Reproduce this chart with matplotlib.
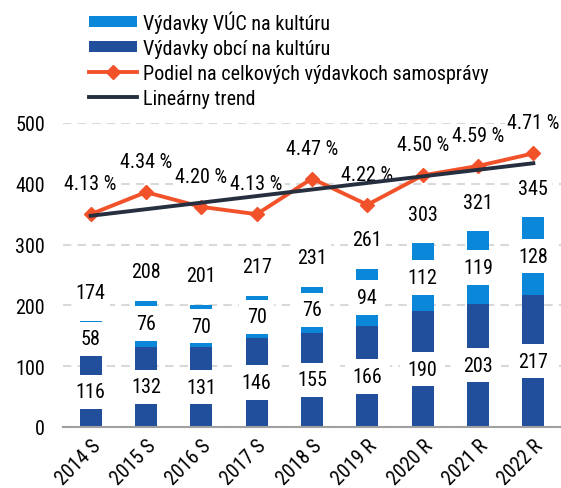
import numpy as np
import matplotlib
matplotlib.use("Agg")
import matplotlib.pyplot as plt

plt.rcParams['font.family'] = ['Roboto Condensed', 'Liberation Sans', 'DejaVu Sans']

categories = ["2014 S", "2015 S", "2016 S", "2017 S", "2018 S", "2019 R", "2020 R", "2021 R", "2022 R"]
obce = [116, 132, 131, 146, 155, 166, 190, 203, 217]
vuc = [58, 76, 70, 70, 76, 94, 112, 119, 128]
totals = [174, 208, 201, 217, 231, 261, 303, 321, 345]
podiel = [4.13, 4.34, 4.20, 4.13, 4.47, 4.22, 4.50, 4.59, 4.71]
yticks = [0, 100, 200, 300, 400, 500]

C_LIGHT = "#0A87D9"
C_DARK = "#214F9C"
C_ORANGE = "#F2522A"
C_TREND = "#262F3F"

FS = 14.5

fig = plt.figure(figsize=(5.61, 4.89), dpi=100)
ax = fig.add_axes([63/561, 1 - 428/489, 1 - 63/561, (428-124)/489])
x = np.arange(len(categories))

ax.set_axisbelow(True)
ax.yaxis.grid(True, color="#D9D9D9", linestyle=(0, (4, 3)), linewidth=1.5)
b1 = ax.bar(x, obce, width=0.4, color=C_DARK, label="Výdavky obcí na kultúru", zorder=2)
b2 = ax.bar(x, vuc, width=0.4, bottom=obce, color=C_LIGHT, label="Výdavky VÚC na kultúru", zorder=2)
ax.set_ylim(0, 500)
ax.set_xlim(-0.5, len(categories) - 0.5)
ax.set_yticks(yticks)
ax.set_xticks(x)
ax.set_xticklabels(categories, rotation=45, ha="right", rotation_mode="anchor", fontsize=FS)
ax.tick_params(axis="both", length=0, labelsize=FS)
ax.tick_params(axis="y", pad=13)
ax.tick_params(axis="x", pad=6.5)
for s in ["left", "right", "top"]:
    ax.spines[s].set_visible(False)
ax.spines["bottom"].set_color("#A0A0A0")
ax.spines["bottom"].set_linewidth(1.5)

box = dict(boxstyle="square,pad=0.38", fc="white", ec="none")
for i in range(len(categories)):
    ax.text(x[i], obce[i] / 2, str(obce[i]), ha="center", va="center", fontsize=FS, bbox=box, zorder=3)
    ax.text(x[i], obce[i] + vuc[i] / 2, str(vuc[i]), ha="center", va="center", fontsize=FS, bbox=box, zorder=3)
    ax.annotate(str(totals[i]), xy=(x[i], obce[i] + vuc[i]), xytext=(0, 21), textcoords="offset points",
                ha="center", va="center", fontsize=FS, bbox=dict(boxstyle="square,pad=0.2", fc="white", ec="none"),
                zorder=3)

ax2 = ax.twinx()
ax2.set_ylim(2.1, 5.0)
ax2.set_xlim(-0.5, len(categories) - 0.5)
for s in ax2.spines.values():
    s.set_visible(False)
ax2.set_yticks([])
coef = np.polyfit(x, podiel, 1)
trend = np.polyval(coef, x)
l1, = ax2.plot(x, podiel, color=C_ORANGE, linewidth=2.8, marker="D", markersize=7,
               label="Podiel na celkových výdavkoch samosprávy", zorder=5)
l2, = ax2.plot(x, trend, color=C_TREND, linewidth=2.8, label="Lineárny trend", zorder=6)
for i in range(len(categories)):
    ax2.annotate(f"{podiel[i]:.2f} %", xy=(x[i], podiel[i]), xytext=(0, 22), textcoords="offset points",
                 ha="center", va="center", fontsize=FS, bbox=dict(boxstyle="square,pad=0.1", fc="white", ec="none"),
                 zorder=3)

fig.legend([b2, b1, l1, l2],
           ["Výdavky VÚC na kultúru", "Výdavky obcí na kultúru", "Podiel na celkových výdavkoch samosprávy", "Lineárny trend"],
           loc="upper left", bbox_to_anchor=(89/561, 1 - 11/489), frameon=False, fontsize=FS,
           handlelength=2.4, handleheight=0.5, handletextpad=0.3, labelspacing=0.3,
           borderpad=0, borderaxespad=0)

fig.savefig("out.png", dpi=100)
